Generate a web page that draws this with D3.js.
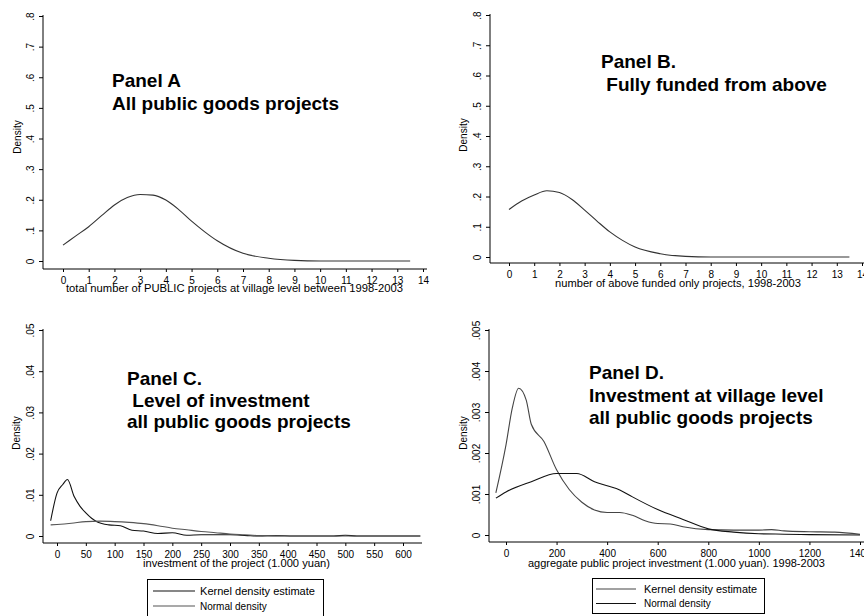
<!DOCTYPE html>
<html>
<head>
<meta charset="utf-8">
<script src="https://cdn.jsdelivr.net/npm/d3@7"></script>
<style>
  body { margin: 0; background: #fff; }
  svg { display: block; font-family: "Liberation Sans", Arial, sans-serif; }
  .ptitle { font-weight: bold; font-size: 19px; white-space: pre; }
  .tick text { font-size: 10px; fill: #000; }
</style>
</head>
<body>
<svg id="chart" width="864" height="616"></svg>
<script>
// values

// Panel A - normal density of number of public projects
const aX = [0, 0.5, 1, 1.5, 2, 2.5, 3, 3.5, 4, 4.5, 5, 5.5, 6, 7, 8, 9, 10, 11, 12, 13, 13.5];
const aY = [0.052, 0.082, 0.112, 0.148, 0.183, 0.207, 0.217, 0.215, 0.199, 0.168, 0.13, 0.096, 0.066, 0.025, 0.009, 0.002, 0, 0, 0, 0, 0];

// Panel B - fully funded from above
const bX = [0, 0.5, 1, 1.5, 2, 2.5, 3, 3.5, 4, 4.5, 5, 6, 7, 8, 9, 10, 11, 12, 13, 13.5];
const bY = [0.157, 0.185, 0.205, 0.219, 0.213, 0.19, 0.155, 0.118, 0.083, 0.055, 0.033, 0.011, 0.002, 0, 0, 0, 0, 0, 0, 0];

// Panel C - investment of the project
const cKernelX = [-11, 0, 10, 18, 30, 40, 50, 60, 70, 90, 110, 130, 150, 175, 200, 225, 250, 300, 330, 350, 380, 410, 450, 480, 500, 520, 550, 630];
const cKernelY = [0.0037, 0.0104, 0.0125, 0.0137, 0.0095, 0.0072, 0.0056, 0.0043, 0.0034, 0.0027, 0.0025, 0.0014, 0.0012, 0.0006, 0.0008, 0.0002, 0.0003, 0.0003, 0.0001, 0, 0.0001, 0, 0, 0, 0.0002, 0, 0, 0];
const cNormalX = [-11, 0, 25, 50, 75, 100, 125, 150, 175, 200, 225, 250, 275, 300, 325, 350, 400, 630];
const cNormalY = [0.0027, 0.0028, 0.0031, 0.0035, 0.0036, 0.0035, 0.0033, 0.003, 0.0025, 0.0019, 0.0015, 0.0011, 0.0008, 0.0005, 0.0003, 0.0001, 0, 0];

// Panel D - aggregate investment at village level
const dKernelX = [-40, 0, 25, 50, 80, 100, 150, 200, 250, 300, 350, 400, 450, 500, 550, 600, 650, 700, 800, 900, 1000, 1050, 1100, 1200, 1300, 1400];
const dKernelY = [0.00103, 0.0022, 0.0031, 0.00358, 0.00329, 0.0027, 0.00228, 0.00159, 0.00111, 0.0008, 0.00061, 0.00055, 0.00055, 0.00048, 0.00035, 0.00028, 0.00027, 0.0002, 0.00013, 0.00012, 0.00012, 0.00013, 0.0001, 0.00008, 0.00007, 0.00002];
const dNormalX = [-40, 0, 100, 200, 280, 350, 400, 450, 500, 600, 700, 800, 900, 1000, 1100, 1200, 1400];
const dNormalY = [0.0009, 0.00105, 0.0013, 0.0015, 0.0015, 0.0013, 0.0012, 0.0011, 0.00093, 0.00062, 0.00038, 0.00015, 0.00007, 0.00003, 0.00002, 0.00001, 0];

// tick labels
const countTicksX = d3.range(0, 15);
const countTicksY = [0, 0.1, 0.2, 0.3, 0.4, 0.5, 0.6, 0.7, 0.8];
const cTicksX = [0, 50, 100, 150, 200, 250, 300, 350, 400, 450, 500, 550, 600];
const cTicksY = [0, 0.01, 0.02, 0.03, 0.04, 0.05];
const dTicksX = [0, 200, 400, 600, 800, 1000, 1200, 1400];
const dTicksY = [0, 0.001, 0.002, 0.003, 0.004, 0.005];

const legendLabels = ['Kernel density estimate', 'Normal density'];

const svg = d3.select('#chart');

function stataNum(d) {
    if (d === 0) return '0';
    return String(d).replace(/^0/, '');
}

function drawPanel(p) {
    const g = svg.append('g');
    const x = d3.scaleLinear().domain(p.xDomain).range(p.xRange);
    const y = d3.scaleLinear().domain(p.yDomain).range(p.yRange);

    // axis lines of the plot region
    g.append('line')
        .attr('x1', p.frame.left).attr('x2', p.frame.left)
        .attr('y1', p.frame.top).attr('y2', p.frame.bottom)
        .attr('stroke', '#000');
    g.append('line')
        .attr('x1', p.frame.left).attr('x2', p.frame.right)
        .attr('y1', p.frame.bottom).attr('y2', p.frame.bottom)
        .attr('stroke', '#000');

    // y axis
    const ya = g.append('g')
        .attr('transform', `translate(${p.frame.left},0)`)
        .call(d3.axisLeft(y).tickValues(p.yTicks).tickFormat(stataNum).tickSize(4).tickSizeOuter(0));
    ya.select('.domain').remove();
    ya.selectAll('.tick text')
        .attr('x', 0).attr('y', -13).attr('dy', '0.35em')
        .attr('transform', 'rotate(-90)')
        .style('text-anchor', 'middle');

    // x axis
    const xa = g.append('g')
        .attr('transform', `translate(0,${p.frame.bottom})`)
        .call(d3.axisBottom(x).tickValues(p.xTicks).tickFormat(d => String(d))
            .tickSize(3).tickPadding(5).tickSizeOuter(0));
    xa.select('.domain').remove();

    // axis titles
    g.append('text')
        .attr('transform', `translate(${p.densityX},${p.densityY}) rotate(-90)`)
        .attr('text-anchor', 'middle')
        .style('font-size', '10px')
        .text('Density');
    g.append('text')
        .attr('x', p.xTitle.x).attr('y', p.xTitle.y)
        .attr('textLength', p.xTitle.w)
        .attr('lengthAdjust', 'spacingAndGlyphs')
        .style('font-size', '10px')
        .text(p.xTitle.text);

    // curves
    const line = d3.line().x(d => x(d[0])).y(d => y(d[1])).curve(d3.curveMonotoneX);
    p.series.forEach(s => {
        g.append('path')
            .datum(d3.zip(s.x, s.y))
            .attr('d', line)
            .attr('fill', 'none')
            .attr('stroke', s.color)
            .attr('stroke-width', 1.1);
    });

    // panel label
    p.label.lines.forEach((t, i) => {
        g.append('text')
            .attr('class', 'ptitle')
            .attr('x', p.label.x)
            .attr('y', p.label.y + i * p.label.step)
            .text(t);
    });

    // legend
    if (p.legend) {
        const L = p.legend;
        const lg = g.append('g').attr('transform', `translate(${L.x},${L.y})`);
        lg.append('rect')
            .attr('x', 0.5).attr('y', 0.5)
            .attr('width', L.w).attr('height', L.h)
            .attr('fill', 'none').attr('stroke', '#000');
        p.series.forEach((s, i) => {
            const row = lg.append('g').attr('transform', `translate(0,${L.rowTop + i * L.rowStep})`);
            row.append('line')
                .attr('x1', L.lineX0).attr('x2', L.lineX1)
                .attr('stroke', s.color).attr('stroke-width', 1.1);
            row.append('text')
                .attr('x', L.textX).attr('dy', '0.35em')
                .attr('textLength', i === 0 ? L.textW : null)
                .attr('lengthAdjust', 'spacingAndGlyphs')
                .style('font-size', '10px')
                .text(legendLabels[i]);
        });
    }
}

drawPanel({
    xDomain: [0, 14], xRange: [63, 423],
    yDomain: [0, 0.8], yRange: [261, 16],
    frame: { left: 43, right: 427, top: 15, bottom: 269 },
    xTicks: countTicksX, yTicks: countTicksY,
    densityX: 21, densityY: 137,
    xTitle: { x: 66, y: 292, w: 337, text: 'total number of PUBLIC projects at village level between 1998-2003' },
    series: [{ x: aX, y: aY, color: '#333' }],
    label: { x: 112, y: 87, step: 23, lines: ['Panel A', 'All public goods projects'] }
});

drawPanel({
    xDomain: [0, 14], xRange: [509, 862],
    yDomain: [0, 0.8], yRange: [257, 15],
    frame: { left: 490, right: 864, top: 14, bottom: 263 },
    xTicks: countTicksX, yTicks: countTicksY,
    densityX: 467, densityY: 135,
    xTitle: { x: 555, y: 287, w: 246, text: 'number of above funded only projects, 1998-2003' },
    series: [{ x: bX, y: bY, color: '#333' }],
    label: { x: 601, y: 68, step: 23, lines: ['Panel B.', ' Fully funded from above'] }
});

drawPanel({
    xDomain: [0, 600], xRange: [57, 403],
    yDomain: [0, 0.05], yRange: [536, 330],
    frame: { left: 43, right: 422, top: 329, bottom: 543 },
    xTicks: cTicksX, yTicks: cTicksY,
    densityX: 20, densityY: 433,
    xTitle: { x: 143, y: 567, w: 187, text: 'investment of the project (1.000 yuan)' },
    series: [
        { x: cKernelX, y: cKernelY, color: '#111' },
        { x: cNormalX, y: cNormalY, color: '#555' }
    ],
    label: { x: 127, y: 385, step: 21.5, lines: ['Panel C.', ' Level of investment', 'all public goods projects'] },
    legend: { x: 147, y: 579, w: 176, h: 37, rowTop: 12, rowStep: 15, lineX0: 6, lineX1: 48, textX: 53, textW: 115 }
});

drawPanel({
    xDomain: [0, 1400], xRange: [506, 860],
    yDomain: [0, 0.005], yRange: [535, 330],
    frame: { left: 489, right: 864, top: 329, bottom: 542 },
    xTicks: dTicksX, yTicks: dTicksY,
    densityX: 467, densityY: 433,
    xTitle: { x: 528, y: 567, w: 297, text: 'aggregate public project investment (1.000 yuan). 1998-2003' },
    series: [
        { x: dKernelX, y: dKernelY, color: '#444' },
        { x: dNormalX, y: dNormalY, color: '#111' }
    ],
    label: { x: 589, y: 379, step: 22.5, lines: ['Panel D.', 'Investment at village level', 'all public goods projects'] },
    legend: { x: 592, y: 578, w: 172, h: 35, rowTop: 11, rowStep: 14.5, lineX0: 4, lineX1: 44, textX: 52, textW: 113 }
});
</script>
</body>
</html>
